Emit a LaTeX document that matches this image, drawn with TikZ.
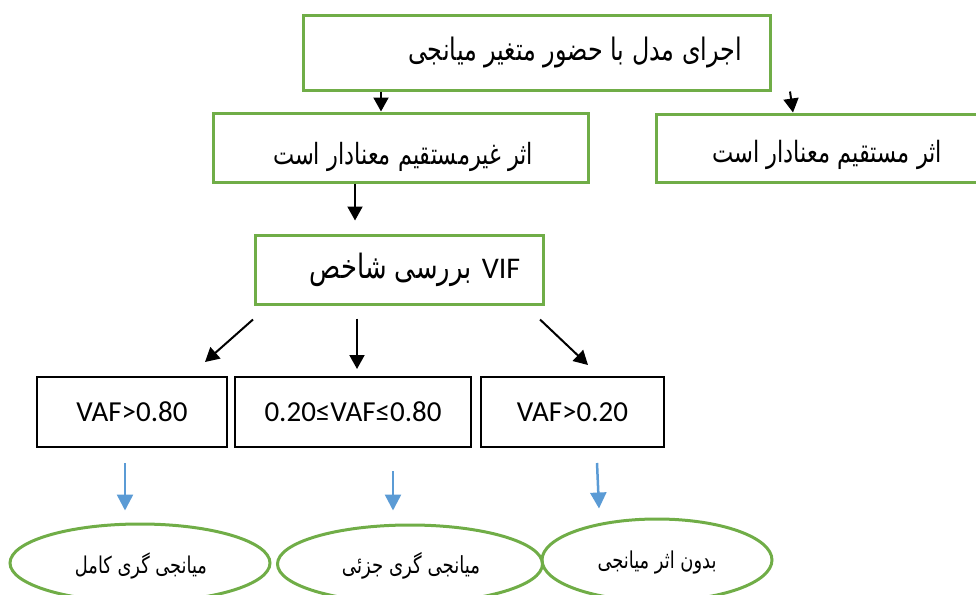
\documentclass[tikz,border=0pt]{standalone}
\usepackage{fontspec}
\usepackage{graphicx}
\usetikzlibrary{arrows.meta,shapes.geometric}
\TeXXeTstate=1
\newfontfamily\arabicfont[Script=Arabic]{DejaVu Sans}
\newfontfamily\latinfont{Carlito}
\definecolor{boxgreen}{HTML}{70AD47}
\definecolor{arrowblue}{HTML}{5B9BD5}
\newcommand{\fatext}[2]{\scalebox{1}[1.3]{\resizebox{#1pt}{!}{\arabicfont #2}}}
\begin{document}
\begin{tikzpicture}[x=1pt,y=-1pt,
  greenbox/.style={draw=boxgreen, line width=3pt, rectangle, inner sep=0pt},
  blackbox/.style={draw=black, line width=2pt, rectangle, inner sep=0pt,
    font=\latinfont\fontsize{29}{34}\selectfont},
  oval/.style={draw=boxgreen, line width=3pt, ellipse, inner sep=0pt},
  arr/.style={draw=black, line width=2pt, -{Triangle[width=15pt,length=14pt]}},
  barr/.style={draw=arrowblue, line width=2.5pt, -{Triangle[width=16pt,length=16pt]}},
  lbl/.style={inner sep=0pt, anchor=center}]
\useasboundingbox (0,0) rectangle (976,594);
\clip (0,0) rectangle (976,594);
% green boxes
\node[greenbox, minimum width=467pt, minimum height=74pt] (top) at (536.5,53) {};
\node[greenbox, minimum width=375pt, minimum height=69pt] (left) at (400.5,147.5) {};
\node[greenbox, minimum width=344pt, minimum height=68pt] (right) at (828,148) {};
\node[greenbox, minimum width=288pt, minimum height=69pt] (vif) at (399,269.5) {};
% texts in green boxes
\node[lbl] (toptext) at (575,53) {\fatext{334}{\beginR اجرای مدل با حضور متغیر میانجی\endR}};
\node[lbl] (lefttext) at (403,157) {\fatext{260}{\beginR اثر غیرمستقیم معنادار است\endR}};
\node[lbl] (righttext) at (827,155) {\fatext{230}{\beginR اثر مستقیم معنادار است\endR}};
\node[lbl] (viftext) at (415,270) {\fatext{162}{\beginR بررسی شاخص\endR}\hspace{10pt}{\latinfont\fontsize{30}{36}\selectfont VIF}};
% black boxes
\node[blackbox, minimum width=190pt, minimum height=70pt] (b1) at (132,412) {VAF>0.80};
\node[blackbox, minimum width=236pt, minimum height=70pt] (b2) at (353,412) {0.20≤VAF≤0.80};
\node[blackbox, minimum width=183pt, minimum height=70pt] (b3) at (572.5,412) {VAF>0.20};
% ellipses
\node[oval, minimum width=260pt, minimum height=78pt] (e1) at (140,563) {};
\node[oval, minimum width=265pt, minimum height=78pt] (e2) at (410,564) {};
\node[oval, minimum width=230pt, minimum height=82pt] (e3) at (657,560) {};
\node[lbl] (e1text) at (141,566) {\fatext{132}{\beginR میانجی گری کامل\endR}};
\node[lbl] (e2text) at (411,566) {\fatext{138}{\beginR میانجی گری جزئی\endR}};
\node[lbl] (e3text) at (657,563) {\fatext{119}{\beginR بدون اثر  میانجی\endR}};
% black arrows
\draw[arr] ([xshift=-155.5pt]top.south) -- ([xshift=-19.5pt]left.north);
\draw[arr] ([xshift=253.5pt]top.south) -- ([xshift=-35pt]right.north);
\draw[arr] ([xshift=-45.5pt]left.south) -- ([xshift=-44pt,yshift=13pt]vif.north);
\draw[arr] ([xshift=-146pt,yshift=-14pt]vif.south) -- ([xshift=73pt,yshift=14pt]b1.north);
\draw[arr] ([xshift=-42pt,yshift=-13pt]vif.south) -- ([xshift=4pt,yshift=7pt]b2.north);
\draw[arr] ([xshift=141pt,yshift=-14pt]vif.south) -- ([xshift=15.5pt,yshift=11pt]b3.north);
% blue arrows
\draw[barr] ([xshift=-7pt,yshift=-15pt]b1.south) -- ([xshift=-15pt,yshift=12pt]e1.north);
\draw[barr] ([xshift=40pt,yshift=-23pt]b2.south) -- ([xshift=-17pt,yshift=13pt]e2.north);
\draw[barr] ([xshift=24.5pt,yshift=-15pt]b3.south) -- ([xshift=-58pt,yshift=9pt]e3.north);
\end{tikzpicture}
\end{document}
